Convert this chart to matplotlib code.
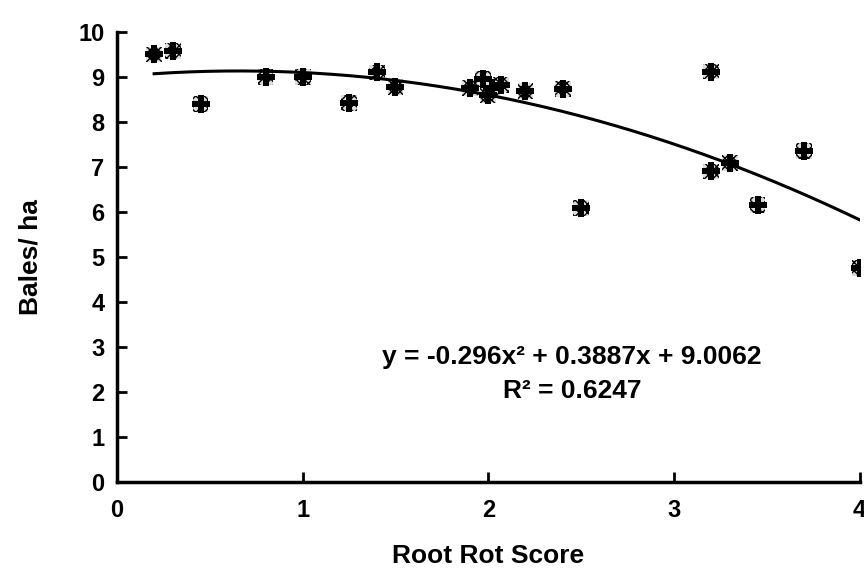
import numpy as np
import matplotlib.pyplot as plt

plt.rcParams['font.family'] = ['Liberation Sans', 'DejaVu Sans']
plt.rcParams['font.weight'] = 'bold'

# data
root_rot = [0.2, 0.3, 0.45, 0.8, 1.0, 1.25, 1.4, 1.5, 1.9, 1.97, 2.0, 2.02, 2.07,
            2.2, 2.4, 2.5, 3.2, 3.2, 3.3, 3.45, 3.7, 4.0]
bales = [9.5, 9.58, 8.4, 9.0, 9.0, 8.42, 9.1, 8.78, 8.76, 8.95, 8.6, 8.75, 8.82,
         8.68, 8.74, 6.08, 9.12, 6.9, 7.08, 6.15, 7.35, 4.75]

# fitted curve coefficients (from the equation on the chart)
coef = [-0.296, 0.3887, 9.0062]
r2 = 0.6247

fig = plt.figure(figsize=(8.64, 5.69), dpi=100)
ax = fig.add_axes([0.1354, 0.1529, 0.8596, 0.7909])

# points
ax.scatter(root_rot, bales, marker='s', s=130, facecolor='#dddddd', edgecolor='none',
           hatch='xxxx', zorder=3)
ax.scatter(root_rot, bales, marker='P', s=150, color='black', linewidths=0, zorder=4)

# trend line
xs = np.linspace(min(root_rot), max(root_rot), 200)
ax.plot(xs, np.polyval(coef, xs), color='black', lw=2.2, zorder=5)

ax.text(2.45, 2.78, 'y = -0.296x\u00b2 + 0.3887x + 9.0062', ha='center', va='center',
        fontsize=19, fontweight='bold')
ax.text(2.45, 2.02, f'R\u00b2 = {r2}', ha='center', va='center',
        fontsize=19, fontweight='bold')

ax.set_xlim(0, 4)
ax.set_ylim(0, 10)
ax.set_xticks([0, 1, 2, 3, 4])
ax.set_yticks(range(0, 11))
ax.tick_params(direction='in', length=7, width=2, labelsize=17, pad=9)
ax.tick_params(axis='x', pad=12)
for sp in ['top', 'right']:
    ax.spines[sp].set_visible(False)
for sp in ['left', 'bottom']:
    ax.spines[sp].set_linewidth(2.5)

ax.set_xlabel('Root Rot Score', fontsize=19, fontweight='bold', labelpad=16)
ax.set_ylabel('Bales/ ha', fontsize=19, fontweight='bold', labelpad=26)

fig.savefig('out.png', dpi=100)
